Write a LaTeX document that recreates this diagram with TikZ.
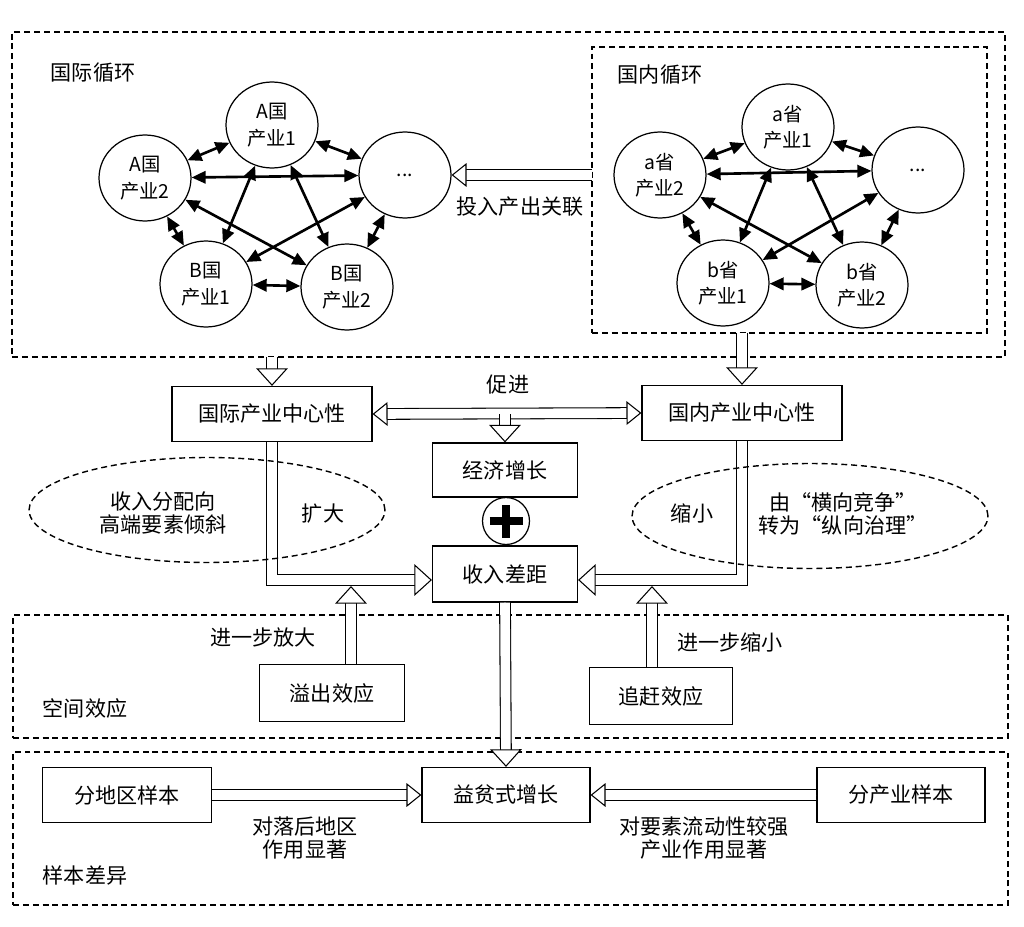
\documentclass[tikz,border=0pt]{standalone}
\usepackage{fontspec}
\setmainfont{Noto Sans CJK SC}
\usetikzlibrary{arrows.meta,shapes.geometric,calc}

\tikzset{
	hol/.tip={Triangle[color=black,fill=white,length=10pt,width=18pt,line width=0.6pt]},
	hols/.tip={Triangle[color=black,fill=white,length=8.5pt,width=13.5pt,line width=0.6pt]},
	box/.style={draw,line width=0.7pt,minimum height=1.1cm,font=\fontsize{12pt}{13pt}\selectfont},
	ind/.style={draw,ellipse,line width=0.7pt,minimum width=1.84cm,minimum height=1.72cm,inner sep=0pt,align=center,font=\fontsize{11pt}{15pt}\selectfont},
	link/.style={line width=1.5pt,{Triangle[length=8pt,width=7pt]}-{Triangle[length=8pt,width=7pt]}},
	region/.style={draw,dash pattern=on 3.4pt off 2.2pt,line width=0.8pt,inner sep=0pt,outer sep=0pt},
	cloud/.style={draw,ellipse,dash pattern=on 3.4pt off 2.2pt,line width=0.8pt,minimum width=7.12cm,minimum height=2.1cm},
	% hollow arrow = double shaft + separate head on top
	shaft/.style={double,double distance=5.5pt,line width=0.6pt,shorten >=6pt},
	head/.style={draw=white,line width=0.6pt,-hol},
	heads/.style={draw=white,line width=0.6pt,-hols},
	txt/.style={align=center,font=\fontsize{12pt}{13pt}\selectfont},
}

\begin{document}
\begin{tikzpicture}[x=0.02cm,y=-0.02cm]
	\useasboundingbox (0,0) rectangle (1024,926);
	
	% dashed regions
	\node[region,minimum width=19.86cm,minimum height=6.5cm] (gjxh) at (508.5,194.5) {};
	\node[region,minimum width=7.9cm,minimum height=5.72cm] (gnxh) at (789.5,190) {};
	\node[region,minimum width=19.9cm,minimum height=2.46cm] (kjxy) at (510.5,676.5) {};
	\node[region,minimum width=19.9cm,minimum height=3.06cm] (ybcy) at (510.5,828.5) {};
	
	\node[txt] (lgj) at (93,73) {国际循环};
	\node[txt] (lgn) at (660,75) {国内循环};
	\node[txt] (lkj) at (85,708) {空间效应};
	\node[txt] (lyb) at (85,875) {样本差异};
	
	% international loop
	\node[ind] (A1) at (272,125) {A国\\产业1};
	\node[ind] (A2) at (145,178) {A国\\产业2};
	\node[ind] (Aetc) at (405,175) {...};
	\node[ind] (B1) at (206,284) {B国\\产业1};
	\node[ind] (B2) at (347,287) {B国\\产业2};
	
	\draw[link] (A1) -- (A2);
	\draw[link] (A1) -- (Aetc);
	\draw[link] (A1) -- (B1);
	\draw[link] (A1) -- (B2);
	\draw[link] (A2) -- (Aetc);
	\draw[link] (A2) -- (B1);
	\draw[link] (A2) -- (B2);
	\draw[link] (Aetc) -- (B1);
	\draw[link] (Aetc) -- (B2);
	\draw[link] (B1) -- (B2);
	
	% domestic loop
	\node[ind] (a1) at (788,127) {a省\\产业1};
	\node[ind] (a2) at (660,175) {a省\\产业2};
	\node[ind] (aetc) at (918,170) {...};
	\node[ind] (b1) at (723,283) {b省\\产业1};
	\node[ind] (b2) at (862,285) {b省\\产业2};
	
	\draw[link] (a1) -- (a2);
	\draw[link] (a1) -- (aetc);
	\draw[link] (a1) -- (b1);
	\draw[link] (a1) -- (b2);
	\draw[link] (a2) -- (aetc);
	\draw[link] (a2) -- (b1);
	\draw[link] (a2) -- (b2);
	\draw[link] (aetc) -- (b1);
	\draw[link] (aetc) -- (b2);
	\draw[link] (b1) -- (b2);
	
	\draw[shaft] (gnxh.west |- Aetc.east) -- (Aetc.east);
	\draw[heads] (gnxh.west |- Aetc.east) -- (Aetc.east);
	\node[txt] (trcc) at (520,207) {投入产出关联};
	
	% centrality and income gap
	\node[box,minimum width=4cm] (gjzx) at (272,414) {国际产业中心性};
	\node[box,minimum width=4cm] (gnzx) at (742,413) {国内产业中心性};
	\node[box,minimum width=2.9cm,minimum height=1.08cm] (jjzz) at (505,470) {经济增长};
	\node[circle,draw,line width=0.7pt,minimum size=0.94cm] (plus) at (506,521) {};
	\node[box,minimum width=2.9cm,minimum height=1.12cm] (srcj) at (505,574) {收入差距};
	
	\draw[line width=4.5pt] ([xshift=-0.33cm]plus.center) -- ([xshift=0.33cm]plus.center);
	\draw[line width=4.5pt] ([yshift=-0.33cm]plus.center) -- ([yshift=0.33cm]plus.center);
	
	\draw[shaft] (gjzx.north |- gjxh.south) -- (gjzx.north);
	\draw[head] (gjzx.north |- gjxh.south) -- (gjzx.north);
	\draw[shaft] (gnzx.north |- gnxh.south) -- (gnzx.north);
	\draw[head] (gnzx.north |- gnxh.south) -- (gnzx.north);
	\draw[shaft,shorten <=6pt] (gjzx.east) -- (gnzx.west);
	\draw[heads,hols-hols] (gjzx.east) -- (gnzx.west);
	\draw[shaft] (jjzz.north |- gjzx.east) -- (jjzz.north);
	\draw[head] (jjzz.north |- gjzx.east) -- (jjzz.north);
	\node[txt] (cj) at (508,385) {促进};
	
	\draw[shaft] (gjzx.south) |- ([yshift=-3.4pt]srcj.west);
	\draw[head] (gjzx.south) |- ([yshift=-3.4pt]srcj.west);
	\draw[shaft] (gnzx.south) |- ([yshift=-3.4pt]srcj.east);
	\draw[head] (gnzx.south) |- ([yshift=-3.4pt]srcj.east);
	
	\node[cloud] (lkd) at (207,510) {};
	\node[cloud] (rsx) at (810,516) {};
	\node[txt] (fp) at (163,513) {收入分配向\\高端要素倾斜};
	\node[txt] (kd) at (323,514) {扩大};
	\node[txt] (sx) at (692,513) {缩小};
	\node[txt] (zl) at (843,514) {由“横向竞争”\\转为“纵向治理”};
	
	% spatial effects
	\node[box,minimum width=2.9cm,minimum height=1.14cm] (yc) at (332,693) {溢出效应};
	\node[box,minimum width=2.86cm,minimum height=1.14cm] (zg) at (661,696) {追赶效应};
	\coordinate (ljoin) at (351,586);
	\coordinate (rjoin) at (652,586);
	\draw[shaft] (yc.north -| ljoin) -- (ljoin);
	\draw[head] (yc.north -| ljoin) -- (ljoin);
	\draw[shaft] (zg.north -| rjoin) -- (rjoin);
	\draw[head] (zg.north -| rjoin) -- (rjoin);
	\node[txt] (jbfd) at (263,637) {进一步放大};
	\node[txt] (jbsx) at (730,642) {进一步缩小};
	
	% samples
	\node[box,minimum width=3.38cm] (fdq) at (127,795) {分地区样本};
	\node[box,minimum width=3.36cm] (ypzz) at (506,795) {益贫式增长};
	\node[box,minimum width=3.36cm] (fcy) at (901,795) {分产业样本};
	
	\draw[shaft] (srcj.south) -- (ypzz.north);
	\draw[head] (srcj.south) -- (ypzz.north);
	\draw[shaft] (fdq.east) -- (ypzz.west);
	\draw[heads] (fdq.east) -- (ypzz.west);
	\draw[shaft] (fcy.west) -- (ypzz.east);
	\draw[heads] (fcy.west) -- (ypzz.east);
	\node[txt] (dlh) at (305,838) {对落后地区\\作用显著};
	\node[txt] (dys) at (704,838) {对要素流动性较强\\产业作用显著};
\end{tikzpicture}
\end{document}
